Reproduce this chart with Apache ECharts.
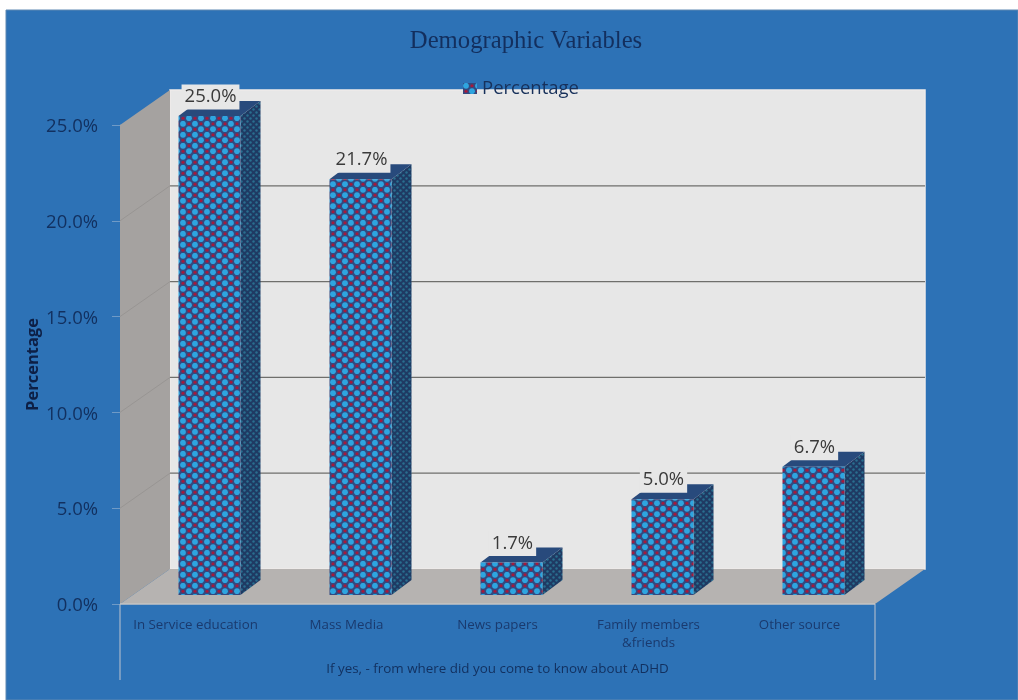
<!DOCTYPE html>
<html>
<head>
<meta charset="utf-8">
<style>html,body{margin:0;padding:0;background:#fff}#chart{width:1018px;height:700px}</style>
<script src="https://cdn.jsdelivr.net/npm/echarts@6/dist/echarts.min.js"></script>
</head>
<body>
<div id="chart"></div>
<script>
const categories = ['In Service education', 'Mass Media', 'News papers', 'Family members\n&friends', 'Other source'];
const percentages = [25.0, 21.7, 1.7, 5.0, 6.7];
const gridValues = [5, 10, 15, 20];
const seriesName = 'Percentage';

// Oblique projection used for the fake 3D box
const wallDepth = [50, -35];
const barShift = [14, -9];
const barDepth = [20, -15];
const barWidth = 62;

function tile(w, h, paint) {
  const c = document.createElement('canvas');
  c.width = w; c.height = h;
  paint(c.getContext('2d'));
  return { image: c, repeat: 'repeat' };
}
function dot(g, x, y, r, col) {
  g.fillStyle = col; g.beginPath(); g.arc(x, y, r, 0, Math.PI * 2); g.fill();
}
// Front face: staggered cyan and red dots on navy
const frontPattern = tile(12, 11, g => {
  g.fillStyle = '#34497f'; g.fillRect(0, 0, 12, 11);
  dot(g, 3, 2.75, 2.9, '#2ea5e0');
  dot(g, 9, 8.25, 2.9, '#2ea5e0');
  dot(g, 9, 2.75, 1.6, '#a51a3c');
  dot(g, 3, 8.25, 1.6, '#a51a3c');
});
// Side face: darker weave
const sidePattern = tile(6, 6, g => {
  g.fillStyle = '#1f3a63'; g.fillRect(0, 0, 6, 6);
  dot(g, 1.5, 1.5, 1.2, '#2a6f90');
  dot(g, 4.5, 4.5, 1.2, '#2a6f90');
});

const option = {
  animation: false,
  backgroundColor: '#ffffff',
  graphic: [{
    type: 'rect', z: -10, silent: true,
    shape: { x: 6, y: 10, width: 1012, height: 690 },
    style: { fill: '#2d72b6', stroke: '#5f88b2', lineWidth: 1 }
  }],
  title: {
    text: 'Demographic Variables', left: 521, top: 24, textAlign: 'center',
    textStyle: { fontFamily: 'Liberation Serif', fontSize: 24.7, fontWeight: 'normal', color: '#132f5e' }
  },
  legend: {
    data: [seriesName], left: 458, top: 74, itemWidth: 14, itemHeight: 11, itemGap: 4,
    icon: 'rect', z: 20,
    textStyle: { fontFamily: 'Open Sans', fontSize: 18.5, color: '#17305a' }
  },
  grid: { left: 120, top: 125, width: 755, height: 479 },
  xAxis: {
    type: 'category', data: categories,
    name: 'If yes, - from where did you come to know about ADHD',
    nameLocation: 'middle', nameGap: 59,
    nameTextStyle: { fontFamily: 'Open Sans', fontSize: 13.4, color: '#12305f' },
    axisLine: { show: false },
    axisTick: { show: false },
    axisLabel: { interval: 0, margin: 12, lineHeight: 18, fontFamily: 'Open Sans', fontSize: 13.3, color: '#1a3a6e' }
  },
  yAxis: {
    type: 'value', min: 0, max: 25, interval: 5,
    name: 'Percentage', nameLocation: 'middle', nameGap: 78, nameRotate: 90, nameMoveOverlap: false,
    nameTextStyle: { fontFamily: 'Open Sans', fontSize: 16.5, fontWeight: 'bold', color: '#0d1f45' },
    axisLine: { show: true, lineStyle: { color: '#6f98c0', width: 1 } },
    axisTick: { show: true, length: 8, lineStyle: { color: '#6f9ac6' } },
    splitLine: { show: false },
    axisLabel: { margin: 22, verticalAlign: 'top', lineHeight: 4, fontFamily: 'Open Sans', fontSize: 18.5, color: '#12305f',
      formatter: v => v.toFixed(1) + '%' }
  },
  series: [
    { // Box walls, floor and the frame round the category labels
      type: 'custom', silent: true, z: 1, clip: false,
      data: [[0, 0]],
      renderItem(params) {
        const r = params.coordSys;
        const [dx, dy] = wallDepth;
        const L = r.x, R = r.x + r.width, T = r.y, B = r.y + r.height;
        return { type: 'group', children: [
          { type: 'polygon', shape: { points: [[L + dx, T + dy], [R + dx, T + dy], [R + dx, B + dy], [L + dx, B + dy]] },
            style: { fill: '#e7e7e7', stroke: '#f0ebea', lineWidth: 1.5 } },
          { type: 'polygon', shape: { points: [[L, T], [L + dx, T + dy], [L + dx, B + dy], [L, B]] },
            style: { fill: '#a5a2a0' } },
          { type: 'polygon', shape: { points: [[L, B], [R, B], [R + dx, B + dy], [L + dx, B + dy]] },
            style: { fill: '#b6b3b1' } },
          { type: 'line', shape: { x1: L, y1: B, x2: L, y2: B + 76 }, style: { stroke: '#8faac6', lineWidth: 1.5 } },
          { type: 'line', shape: { x1: R, y1: B, x2: R, y2: B + 76 }, style: { stroke: '#8faac6', lineWidth: 1.5 } },
          { type: 'line', shape: { x1: L, y1: B, x2: R, y2: B }, style: { stroke: '#c4c4c4', lineWidth: 1.5 } }
        ] };
      }
    },
    { // Gridlines run along the back wall and slant down the side wall
      type: 'custom', silent: true, z: 2, clip: false,
      data: gridValues.map(v => [0, v]),
      renderItem(params, api) {
        const r = params.coordSys;
        const y = api.coord([0, api.value(1)])[1];
        const [dx, dy] = wallDepth;
        return { type: 'group', children: [
          { type: 'line', shape: { x1: r.x + dx, y1: y + dy, x2: r.x + r.width + dx, y2: y + dy },
            style: { stroke: '#6f6f6c', lineWidth: 1.3 } },
          { type: 'line', shape: { x1: r.x, y1: y, x2: r.x + dx, y2: y + dy },
            style: { stroke: '#989593', lineWidth: 1 } }
        ] };
      }
    },
    { // 3D columns with their value labels
      type: 'custom', name: seriesName, z: 3, clip: false,
      itemStyle: { color: frontPattern },
      data: percentages.map((v, i) => [i, v]),
      renderItem(params, api) {
        const top = api.coord([api.value(0), api.value(1)]);
        const base = api.coord([api.value(0), 0]);
        const x0 = top[0] + barShift[0] - barWidth / 2, x1 = x0 + barWidth;
        const y0 = top[1] + barShift[1], y1 = base[1] + barShift[1];
        const [ox, oy] = barDepth;
        const text = api.value(1).toFixed(1) + '%';
        return { type: 'group', children: [
          { type: 'polygon', shape: { points: [[x1, y0], [x1 + ox, y0 + oy], [x1 + ox, y1 + oy], [x1, y1]] },
            style: { fill: sidePattern } },
          { type: 'polygon', shape: { points: [[x0, y0], [x0 + ox, y0 + oy], [x1 + ox, y0 + oy], [x1, y0]] },
            style: { fill: '#284a7c' } },
          { type: 'rect', shape: { x: x0, y: y0, width: barWidth, height: y1 - y0 },
            style: { fill: frontPattern } },
          { type: 'text', z2: 10, style: {
              text, x: (x0 + x1) / 2 + 1, y: y0 - 19, align: 'center', verticalAlign: 'middle',
              fontFamily: 'Open Sans', fontSize: 18.5, fill: '#3a3a3a',
              backgroundColor: '#e7e7e7', padding: [3, 3, 3, 3] } }
        ] };
      }
    }
  ]
};
echarts.init(document.getElementById('chart'), null, { renderer: 'canvas' }).setOption(option);
</script>
</body>
</html>
